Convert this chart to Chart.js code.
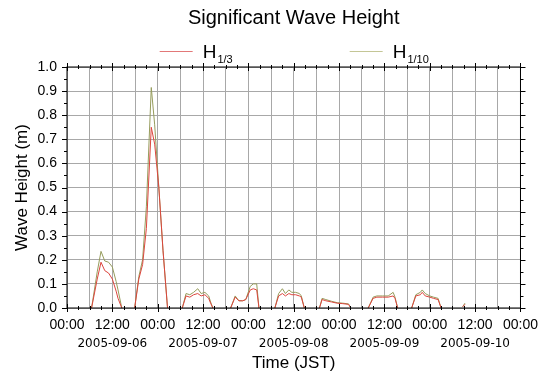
<!DOCTYPE html>
<html>
<head>
<meta charset="utf-8">
<script src="https://cdn.jsdelivr.net/npm/chart.js@4.4.1/dist/chart.umd.min.js"></script>
<style>
  html, body { margin: 0; background: #fff; }
  #wrap { width: 547px; height: 376px; }
</style>
</head>
<body>
<div id="wrap"><canvas id="chart"></canvas></div>
<script>
// hours since 2005-09-06 00:00 JST, null rows break the line between records
const hours = [
  6.5, 8, 9, 10, 11, 12, 13, 13.5, 14.5, 16,
  17.9, 19, 20, 21, 22.3, 23.2, 24.3, 25.4, 26.6, 28,
  30.5, 31.5, 32.5, 33.5, 34.6, 35.5, 36.5, 37.5, 38, 38.6, 40,
  43.3, 44.5, 45.5, 46.5, 47.3, 48.5, 49.3, 50.2, 50.8, 52,
  55, 56, 57, 57.8, 58.7, 59.5, 60.5, 61.5, 62, 62.8, 64,
  66.8, 67.5, 68.5, 70, 71.5, 73, 74.5, 75.1, 77,
  79.7, 81, 82, 83.5, 85, 86.3, 86.8, 87.5, 89,
  91.2, 92.3, 93.5, 94, 94.8, 96, 97, 98.2, 99, 101,
  104.7, 105.3
];
const h13 = [
  0, 0.12, 0.19, 0.155, 0.145, 0.12, 0.07, 0.04, 0, null,
  0, 0.12, 0.18, 0.33, 0.75, 0.68, 0.5, 0.24, 0, null,
  0, 0.05, 0.045, 0.055, 0.06, 0.05, 0.055, 0.04, 0.02, 0, null,
  0, 0.045, 0.03, 0.03, 0.035, 0.075, 0.08, 0.075, 0, null,
  0, 0.05, 0.06, 0.05, 0.06, 0.055, 0.055, 0.05, 0.045, 0, null,
  0, 0.035, 0.03, 0.025, 0.02, 0.018, 0.015, 0, null,
  0, 0.04, 0.045, 0.045, 0.045, 0.05, 0.04, 0, null,
  0, 0.05, 0.055, 0.065, 0.05, 0.045, 0.04, 0.035, 0, null,
  0.005, 0.015
];
const h110 = [
  0, 0.15, 0.235, 0.195, 0.19, 0.17, 0.11, 0.075, 0, null,
  0, 0.13, 0.2, 0.42, 0.915, 0.76, 0.5, 0.24, 0, null,
  0, 0.06, 0.055, 0.065, 0.08, 0.06, 0.065, 0.05, 0.025, 0, null,
  0, 0.05, 0.03, 0.03, 0.035, 0.09, 0.1, 0.1, 0, null,
  0, 0.06, 0.08, 0.06, 0.075, 0.065, 0.065, 0.06, 0.05, 0, null,
  0, 0.04, 0.035, 0.028, 0.022, 0.02, 0.017, 0, null,
  0, 0.045, 0.05, 0.05, 0.05, 0.065, 0.045, 0, null,
  0, 0.055, 0.065, 0.075, 0.06, 0.05, 0.045, 0.04, 0, null,
  0.005, 0.02
];

const seriesNames = ['H1/3', 'H1/10'];
const legendSub = ['1/3', '1/10'];
const timeLabels = ['00:00', '12:00'];
const dateHours = [12, 36, 60, 84, 108];
const dateLabels = ['2005-09-06', '2005-09-07', '2005-09-08', '2005-09-09', '2005-09-10'];

const FONT = 'Liberation Sans, Arial, Helvetica, sans-serif';
const RED = 'rgb(220,70,62)';
const GREEN = 'rgb(150,156,92)';
const legendColors = ['rgb(226,120,120)', 'rgb(196,198,150)'];

const pts = vals => hours.map((h, i) => ({x: h, y: vals[i]}));

// frame + tick marks on all four sides, like the GMT plot
const frame = {
  id: 'frame',
  afterDatasetsDraw(chart) {
    const {ctx, chartArea: a, scales: {x, y}} = chart;
    ctx.save();
    ctx.strokeStyle = '#000';
    ctx.lineWidth = 1;
    ctx.strokeRect(a.left, a.top, a.right - a.left, a.bottom - a.top);
    ctx.beginPath();
    for (let v = x.min; v <= x.max; v += 3) {
      const px = Math.round(x.getPixelForValue(v)) + 0.5;
      const l = v % 12 === 0 ? 4 : 2;
      ctx.moveTo(px, a.bottom - l); ctx.lineTo(px, a.bottom + l);
      ctx.moveTo(px, a.top - l); ctx.lineTo(px, a.top + l);
    }
    for (let k = 0; k <= 20; k++) {
      const py = Math.round(y.getPixelForValue(k * 0.05)) + 0.5;
      const l = k % 2 === 0 ? 5 : 3;
      ctx.moveTo(a.left - l, py); ctx.lineTo(a.left, py);
      ctx.moveTo(a.right, py); ctx.lineTo(a.right + l, py);
    }
    ctx.stroke();
    ctx.restore();
  }
};

// legend with subscripts (H1/3, H1/10)
const subLegend = {
  id: 'subLegend',
  afterDraw(chart) {
    const {ctx, chartArea: a} = chart;
    const lineLen = 33, gap = 10, spacing = 118, yMid = 51;
    ctx.save();
    const widths = chart.data.datasets.map((ds, i) => {
      ctx.font = '19px ' + FONT;
      const w1 = ctx.measureText('H').width;
      ctx.font = '11px ' + FONT;
      return lineLen + gap + w1 + ctx.measureText(legendSub[i]).width;
    });
    const total = widths.reduce((s, w) => s + w, 0) + spacing * (widths.length - 1);
    let x0 = (a.left + a.right) / 2 - total / 2;
    chart.data.datasets.forEach((ds, i) => {
      ctx.strokeStyle = legendColors[i];
      ctx.lineWidth = 1;
      ctx.beginPath();
      ctx.moveTo(x0, yMid + 0.5); ctx.lineTo(x0 + lineLen, yMid + 0.5);
      ctx.stroke();
      ctx.fillStyle = '#000';
      ctx.textBaseline = 'alphabetic';
      ctx.font = '19px ' + FONT;
      const tx = x0 + lineLen + gap;
      ctx.fillText('H', tx, yMid + 7);
      const w1 = ctx.measureText('H').width;
      ctx.font = '11px ' + FONT;
      ctx.fillText(legendSub[i], tx + w1 + 1, yMid + 12);
      x0 += widths[i] + spacing;
    });
    ctx.restore();
  }
};

new Chart(document.getElementById('chart'), {
  type: 'line',
  data: {
    datasets: [
      {
        label: seriesNames[0],
        data: pts(h13),
        borderColor: RED,
        borderWidth: 1,
        pointRadius: 0,
        tension: 0
      },
      {
        label: seriesNames[1],
        data: pts(h110),
        borderColor: GREEN,
        borderWidth: 1,
        pointRadius: 0,
        tension: 0
      }
    ]
  },
  options: {
    responsive: true,
    maintainAspectRatio: false,
    animation: false,
    layout: { padding: { left: 0, right: 25, top: 0, bottom: 0 } },
    plugins: {
      legend: { display: false },
      tooltip: { enabled: false },
      title: {
        display: true,
        text: 'Significant Wave Height',
        fullSize: false,
        color: '#000',
        font: { family: FONT, size: 20, weight: 'normal' },
        padding: { top: 6, bottom: 37 }
      }
    },
    scales: {
      x: {
        type: 'linear',
        min: 0,
        max: 120,
        border: { display: false },
        grid: { color: '#a8a8a8', drawTicks: false },
        ticks: {
          stepSize: 6,
          autoSkip: false,
          maxRotation: 0,
          padding: 9,
          color: '#000',
          font: { family: FONT, size: 14 },
          callback: v => v % 12 === 0 ? timeLabels[(v / 12) % 2] : ''
        },
        afterFit: s => { s.height = 27; }
      },
      x2: {
        type: 'linear',
        position: 'bottom',
        min: 0,
        max: 120,
        border: { display: false },
        grid: { display: false, drawTicks: false },
        afterBuildTicks: s => { s.ticks = dateHours.map(v => ({value: v})); },
        ticks: {
          autoSkip: false,
          maxRotation: 0,
          padding: 2,
          color: '#000',
          font: { family: 'DejaVu Sans, sans-serif', size: 12 },
          callback: (v, i) => dateLabels[i]
        },
        title: {
          display: true,
          text: 'Time (JST)',
          color: '#000',
          font: { family: FONT, size: 17 },
          padding: { top: 0, bottom: 2 }
        },
        afterFit: s => { s.height = 41; }
      },
      y: {
        min: 0,
        max: 1,
        border: { display: false },
        grid: { color: '#a8a8a8', drawTicks: false },
        ticks: {
          stepSize: 0.1,
          padding: 10,
          color: '#000',
          font: { family: FONT, size: 14 },
          callback: v => v.toFixed(1)
        },
        title: {
          display: true,
          text: 'Wave Height (m)',
          color: '#000',
          font: { family: FONT, size: 17 },
          padding: { top: 12, bottom: 0 }
        },
        afterFit: s => { s.width = 67; }
      }
    }
  },
  plugins: [frame, subLegend]
});
</script>
</body>
</html>
